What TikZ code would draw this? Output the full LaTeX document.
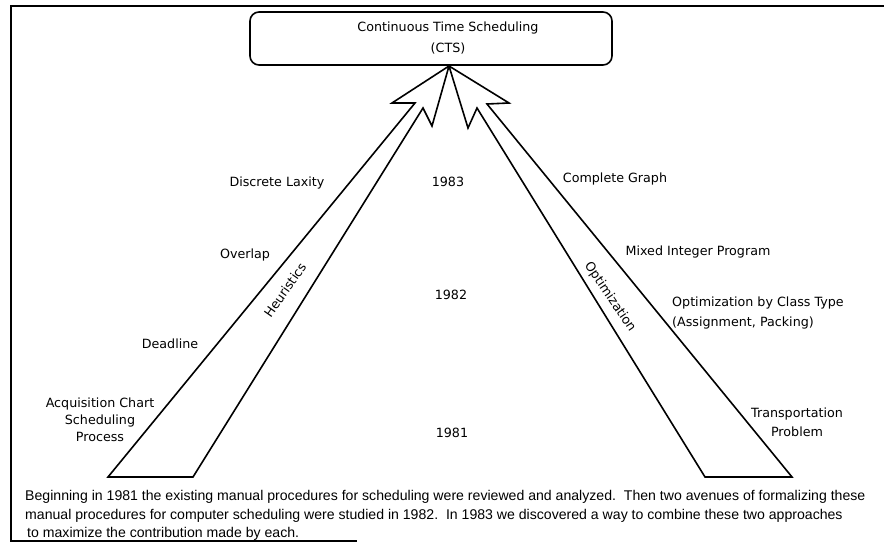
\documentclass[tikz,border=0pt]{standalone}
\usepackage{fontspec}
\setmainfont{DejaVu Sans}
\newfontfamily\notefont{Liberation Sans}

\begin{document}
\begin{tikzpicture}[x=1pt,y=-1pt,
    lbl/.style={font=\fontsize{12.7}{17}\selectfont, inner sep=0pt},
    note/.style={font=\notefont\fontsize{14.1}{15}\selectfont, inner sep=0pt, anchor=base west},
    fat/.style={line width=1.6pt, line join=miter}]
   \useasboundingbox (0,0) rectangle (884,548);

   % frame
   \draw[line width=1.8pt] (884,6) -- (11,6) -- (11,541) -- (357,541);

   % goal box
   \node[draw, line width=1.6pt, rounded corners=9pt, minimum width=362pt, minimum height=53pt] (ctsbox) at (431,38.5) {};
   \node[lbl, align=center, font=\fontsize{12.7}{21}\selectfont] (ctstext) at (448,38) {Continuous Time Scheduling\\(CTS)};
   \coordinate (tip) at (449,66);

   % the two approaches
   \draw[fat] (108,477) -- (415,103) -- (392,103) -- (tip) -- (432,126) -- (423,108) -- (193,477) -- cycle;
   \draw[fat] (792,477) -- (487,104) -- (509,103) -- (tip) -- (468,128) -- (477,108) -- (705,477) -- cycle;
   \node[lbl, rotate=55] (heur) at (285,290) {Heuristics};
   \node[lbl, rotate=-56] (optim) at (610,297) {Optimization};

   % years
   \node[lbl] (y83) at (448,182) {1983};
   \node[lbl] (y82) at (451,295) {1982};
   \node[lbl] (y81) at (452,433) {1981};

   % heuristic steps
   \node[lbl] (laxity) at (277,183) {Discrete Laxity};
   \node[lbl] (overlap) at (245,255) {Overlap};
   \node[lbl] (deadline) at (170,344) {Deadline};
   \node[lbl, align=center] (acq) at (100,420) {Acquisition Chart\\Scheduling\\Process};

   % optimization steps
   \node[lbl] (graph) at (615,179) {Complete Graph};
   \node[lbl] (mip) at (698,252) {Mixed Integer Program};
   \node[lbl, align=left, anchor=west, font=\fontsize{12.7}{20}\selectfont] (class) at (672,313) {Optimization by Class Type\\(Assignment, Packing)};
   \node[lbl, align=center, font=\fontsize{12.7}{19}\selectfont] (transp) at (797,422) {Transportation\\Problem};

   % note
   \node[note] (note1) at (25,500.7) {Beginning in 1981 the existing manual procedures for scheduling were reviewed and analyzed.\ \ Then two avenues of formalizing these};
   \node[note] (note2) at (25,519) {manual procedures for computer scheduling were studied in 1982.\ \ In 1983 we discovered a way to combine these two approaches};
   \node[note] (note3) at (27,537.7) {to maximize the contribution made by each.};
\end{tikzpicture}
\end{document}
